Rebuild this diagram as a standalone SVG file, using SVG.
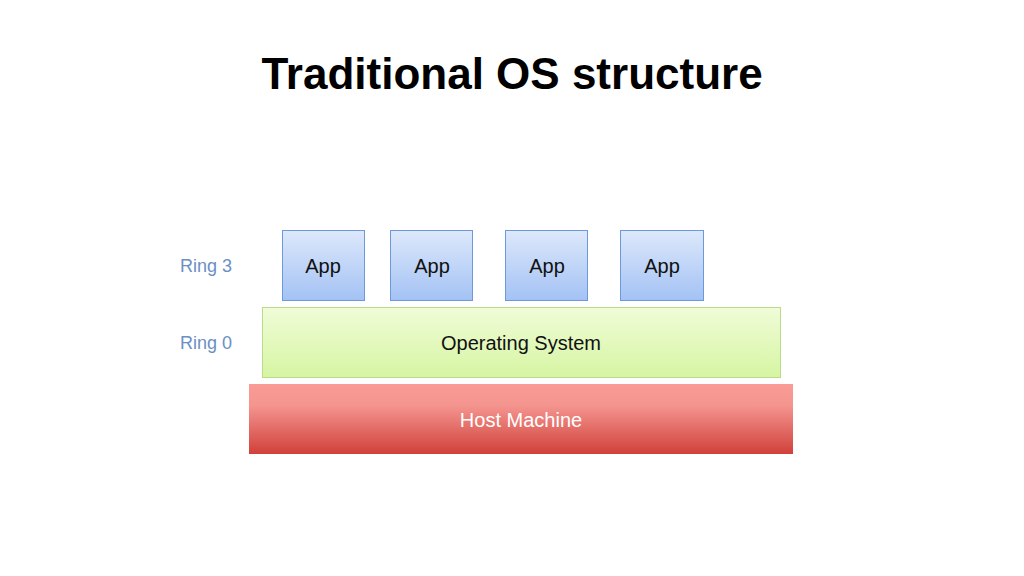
<svg xmlns="http://www.w3.org/2000/svg" width="1024" height="576" viewBox="0 0 1024 576">
<defs>
<linearGradient id="gApp" x1="0" y1="0" x2="0" y2="1"><stop offset="0" stop-color="#dde8fb"/><stop offset="1" stop-color="#a3c2f4"/></linearGradient>
<linearGradient id="gOs" x1="0" y1="0" x2="0" y2="1"><stop offset="0" stop-color="#f0fcd8"/><stop offset="1" stop-color="#d6f5a2"/></linearGradient>
<linearGradient id="gHost" x1="0" y1="0" x2="0" y2="1"><stop offset="0" stop-color="#fb9b96"/><stop offset="0.3" stop-color="#f59590"/><stop offset="1" stop-color="#d0413a"/></linearGradient>
<style>
.app{fill:url(#gApp);stroke:#6c99dc;stroke-width:1}
.t{font-family:"Helvetica","Liberation Sans",Arial,sans-serif;font-size:20px;text-anchor:middle}
.ring{font-family:"Liberation Sans",Arial,sans-serif;font-size:18px;fill:#6b8fc6}
</style>
</defs>
<rect width="1024" height="576" fill="#fff"/>
<text x="512" y="89" font-family="Liberation Sans,Arial,sans-serif" font-size="44" font-weight="bold" text-anchor="middle" fill="#000">Traditional OS structure</text>
<text class="ring" x="180" y="272">Ring 3</text>
<text class="ring" x="180" y="349">Ring 0</text>
<g id="host"><rect x="249" y="384" width="544" height="70" fill="url(#gHost)"/><text class="t" x="521" y="427" fill="#fff">Host Machine</text></g>
<g id="os"><rect x="262.5" y="307.5" width="518" height="70" fill="url(#gOs)" stroke="#b9dc8a"/><text class="t" x="521" y="350" fill="#111">Operating System</text></g>
<g id="app1"><rect class="app" x="282.5" y="230.5" width="82" height="70"/><text class="t" x="323" y="273" fill="#111">App</text></g>
<g id="app2"><rect class="app" x="390.5" y="230.5" width="82" height="70"/><text class="t" x="432" y="273" fill="#111">App</text></g>
<g id="app3"><rect class="app" x="505.5" y="230.5" width="82" height="70"/><text class="t" x="547" y="273" fill="#111">App</text></g>
<g id="app4"><rect class="app" x="620.5" y="230.5" width="83" height="70"/><text class="t" x="662" y="273" fill="#111">App</text></g>
<g id="connectors"/>
</svg>
